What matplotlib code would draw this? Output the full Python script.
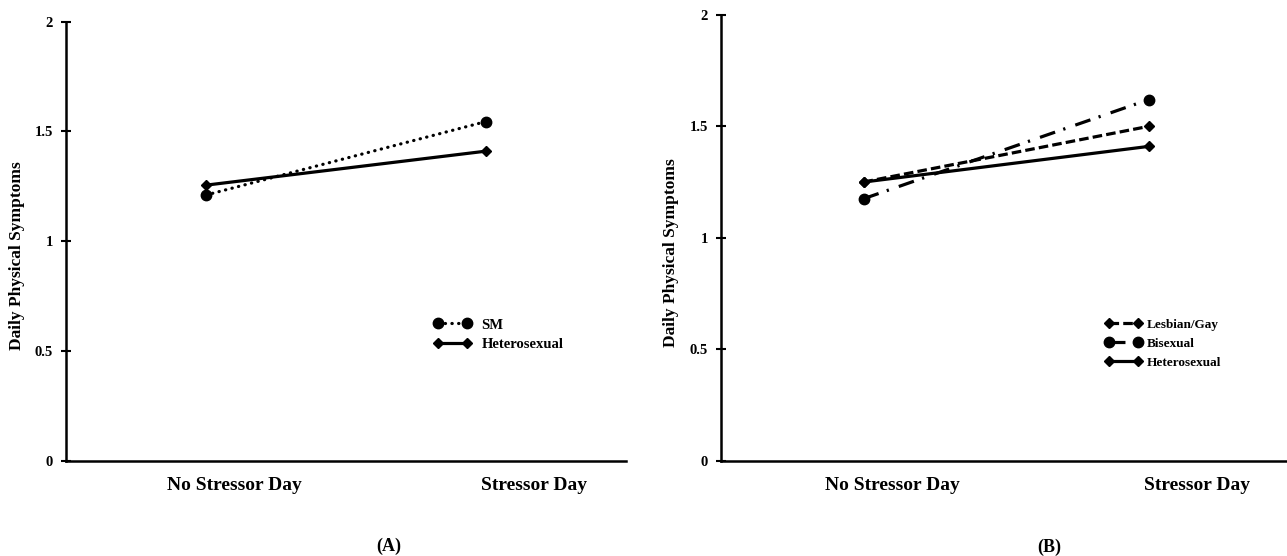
import matplotlib
matplotlib.use("Agg")
import matplotlib.pyplot as plt
from matplotlib.lines import Line2D
from matplotlib.legend_handler import HandlerLine2D

plt.rcParams["font.family"] = ["Liberation Serif", "DejaVu Serif"]
plt.rcParams["font.weight"] = "bold"

# data
days = ["No Stressor Day", "Stressor Day"]
y_ticks = [0, 0.5, 1, 1.5, 2]
y_tick_labels = ["0", "0.5", "1", "1.5", "2"]

sm_a = [1.21, 1.545]
hetero_a = [1.255, 1.41]

lesbian_gay_b = [1.25, 1.50]
bisexual_b = [1.175, 1.62]
hetero_b = [1.25, 1.41]

# category label positions (labels sit right of the points in the original)
label_pos = [1.10, 2.17]

W, H = 1287, 556
fig = plt.figure(figsize=(W / 100, H / 100), dpi=100)

ax_a = fig.add_axes([66 / W, 95.5 / H, 560 / W, 438.8 / H])
ax_b = fig.add_axes([721 / W, 95.5 / H, 570 / W, 445.5 / H])

LW = 2.3
x = [1, 2]

ax_a.plot(x, sm_a, color="black", lw=LW, linestyle=(0, (0.1, 2.0)),
          dash_capstyle="round", marker="o", ms=7.5, label="SM")
ax_a.plot(x, hetero_a, color="black", lw=LW, linestyle="-",
          marker="D", ms=5, label="Heterosexual")

ax_b.plot(x, lesbian_gay_b, color="black", lw=LW, linestyle=(0, (3, 1.3)),
          marker="D", ms=5, label="Lesbian/Gay")
ax_b.plot(x, bisexual_b, color="black", lw=LW, linestyle=(0, (5, 2.7, 0.7, 3.3)),
          marker="o", ms=7.5, label="Bisexual")
ax_b.plot(x, hetero_b, color="black", lw=LW, linestyle="-",
          marker="D", ms=5, label="Heterosexual")

for ax, tag in [(ax_a, "(A)"), (ax_b, "(B)")]:
    ax.set_xlim(0.5, 2.5)
    ax.set_ylim(0, 2)
    ax.spines["top"].set_visible(False)
    ax.spines["right"].set_visible(False)
    ax.spines["left"].set_linewidth(1.8)
    ax.spines["bottom"].set_linewidth(1.8)
    ax.set_yticks(y_ticks, y_tick_labels)
    ax.tick_params(axis="y", direction="inout", length=7, width=1.5,
                   labelsize=10.5, pad=6)
    ax.set_xticks(label_pos, days)
    ax.tick_params(axis="x", length=0, labelsize=14, pad=12)
    ax.set_ylabel("Daily Physical Symptoms", fontsize=12.5, fontweight="bold")
    ax.yaxis.set_label_coords(-0.074, 0.467)
    ax.text(0.576, -0.195, tag, transform=ax.transAxes, ha="center",
            va="center", fontsize=13, fontweight="bold")

hmap = {Line2D: HandlerLine2D(marker_pad=0, numpoints=2)}
ax_a.legend(loc="upper left", bbox_to_anchor=(0.664, 0.324), frameon=False,
            borderpad=0, borderaxespad=0, handlelength=2.0, handletextpad=1.0,
            labelspacing=0.43, handler_map=hmap,
            prop={"size": 10.5, "weight": "bold"})
ax_b.legend(loc="upper left", bbox_to_anchor=(0.681, 0.318), frameon=False,
            borderpad=0, borderaxespad=0, handlelength=2.2, handletextpad=0.68,
            labelspacing=0.5, handler_map=hmap,
            prop={"size": 9.5, "weight": "bold"})

fig.savefig("out.png", dpi=100)
